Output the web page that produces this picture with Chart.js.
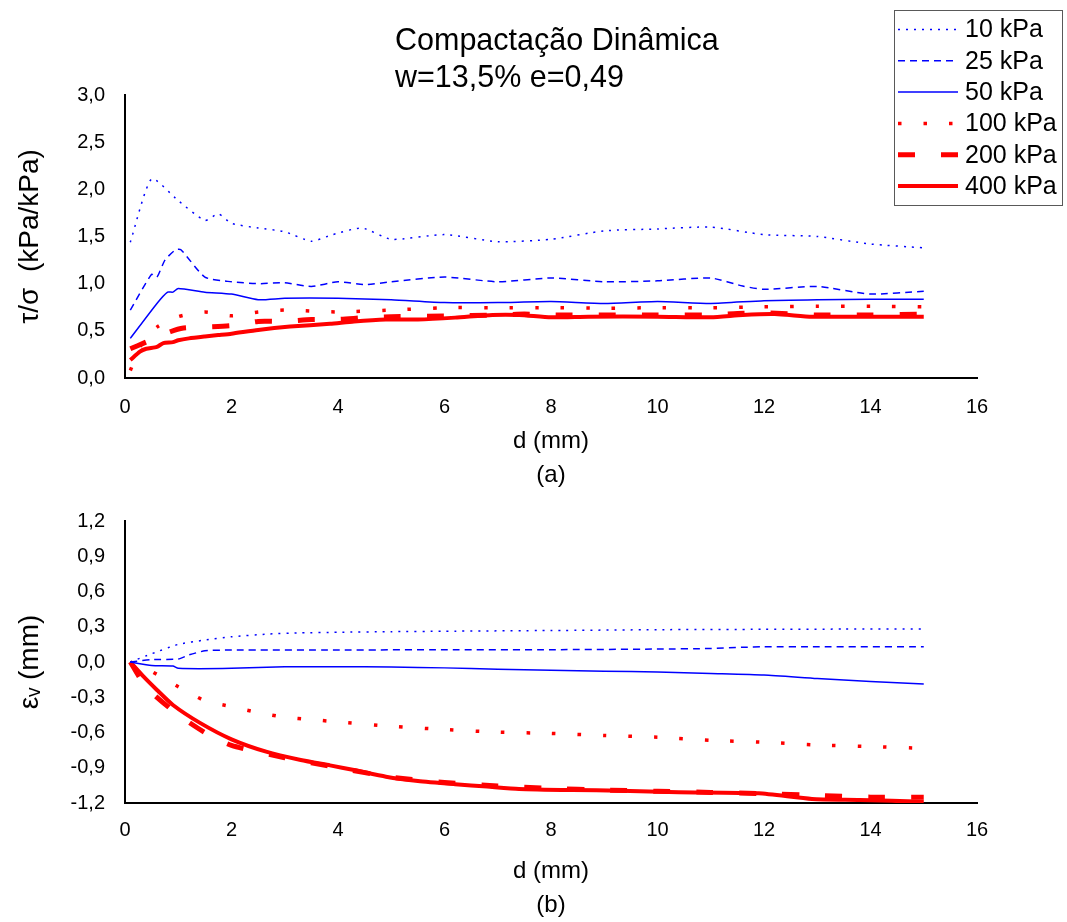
<!doctype html>
<html lang="pt">
<head>
  <meta charset="UTF-8">
  <title>Compactação Dinâmica</title>
  <script src="https://cdn.jsdelivr.net/npm/chart.js"></script>
  <style>
    body {
      margin: 0;
      width: 1067px;
      height: 922px;
      position: relative;
      overflow: hidden;
      background: #fff;
      font-family: "Liberation Sans", Arial, sans-serif;
    }
    canvas { position: absolute; left: 0; }
    #chart_a { top: 0; }
    #chart_b { top: 500px; }
    #title {
      position: absolute;
      left: 395px;
      top: 21px;
      font-size: 30.5px;
      line-height: 37px;
      color: #000;
      white-space: nowrap;
    }
  </style>
</head>
<body>
  <canvas id="chart_a" width="1067" height="500"></canvas>
  <canvas id="chart_b" width="1067" height="422"></canvas>
  <div id="title">Compactação Dinâmica<br>w=13,5% e=0,49</div>
  <script>
    const FONT = '"Liberation Sans", Arial, sans-serif'

    const x_ticks = [0, 2, 4, 6, 8, 10, 12, 14, 16]
    const tau_ticks = [0, 0.5, 1, 1.5, 2, 2.5, 3]
    const eps_ticks = [-1.2, -0.9, -0.6, -0.3, 0, 0.3, 0.6, 0.9, 1.2]
    const series_names = ['10 kPa', '25 kPa', '50 kPa', '100 kPa', '200 kPa', '400 kPa']

    // (a) tau/sigma vs d
    const d_a10 = [0.1, 0.5, 1.0, 1.5, 1.75, 2.0, 2.5, 3.0, 3.5, 3.9, 4.45, 5.0, 6.0, 7.0, 8.0, 9.0, 10.0, 11.0, 12.0, 13.0, 14.0, 15.0]
    const tau_10 = [1.44, 2.11, 1.88, 1.67, 1.74, 1.64, 1.59, 1.55, 1.45, 1.52, 1.59, 1.47, 1.52, 1.445, 1.47, 1.56, 1.58, 1.60, 1.52, 1.50, 1.42, 1.38]
    const d_a25 = [0.1, 0.5, 0.6, 0.75, 0.95, 1.05, 1.5, 2.0, 2.5, 3.0, 3.5, 4.0, 4.5, 5.0, 6.0, 7.0, 8.0, 9.0, 10.0, 11.0, 11.6, 12.0, 13.0, 14.0, 15.0]
    const tau_25 = [0.72, 1.1, 1.07, 1.25, 1.36, 1.36, 1.07, 1.02, 1.0, 1.01, 0.97, 1.02, 0.99, 1.02, 1.07, 1.02, 1.06, 1.02, 1.03, 1.06, 0.975, 0.94, 0.97, 0.89, 0.92]
    const d_a50 = [0.1, 0.6, 0.8, 0.9, 1.0, 1.5, 2.0, 2.5, 3.0, 4.0, 5.0, 6.0, 7.0, 8.0, 9.0, 10.0, 11.0, 12.0, 13.0, 14.0, 15.0]
    const tau_50 = [0.42, 0.79, 0.91, 0.91, 0.95, 0.91, 0.89, 0.83, 0.845, 0.845, 0.83, 0.80, 0.80, 0.81, 0.79, 0.81, 0.79, 0.82, 0.83, 0.835, 0.835]
    const d_a100 = [0.1, 0.3, 0.6, 1.0, 1.5, 2.0, 2.5, 3.0, 3.5, 4.0, 5.0, 6.0, 7.0, 8.0, 9.0, 10.0, 11.0, 12.0, 13.0, 14.0, 15.0]
    const tau_100 = [0.08, 0.35, 0.54, 0.65, 0.70, 0.66, 0.70, 0.72, 0.71, 0.70, 0.72, 0.745, 0.745, 0.745, 0.74, 0.745, 0.745, 0.755, 0.76, 0.76, 0.755]
    const d_a200 = [0.1, 0.35, 0.85, 1.1, 1.5, 2.0, 2.5, 3.0, 3.5, 4.0, 4.5, 5.0, 6.0, 7.0, 7.5, 8.0, 9.0, 10.0, 11.0, 11.5, 12.0, 13.0, 14.0, 15.0]
    const tau_200 = [0.31, 0.37, 0.49, 0.53, 0.54, 0.555, 0.60, 0.60, 0.62, 0.62, 0.64, 0.65, 0.657, 0.668, 0.678, 0.668, 0.668, 0.668, 0.668, 0.685, 0.69, 0.668, 0.668, 0.678]
    const d_a400 = [0.1, 0.28, 0.4, 0.6, 0.72, 0.9, 1.0, 1.2, 1.5, 1.75, 2.0, 2.5, 3.1, 3.85, 4.3, 4.9, 5.5, 6.2, 6.9, 7.4, 8.0, 8.7, 10.0, 11.0, 11.6, 12.2, 12.9, 13.8, 15.0]
    const tau_400 = [0.19, 0.28, 0.31, 0.33, 0.37, 0.38, 0.40, 0.42, 0.44, 0.455, 0.47, 0.51, 0.545, 0.575, 0.60, 0.62, 0.62, 0.64, 0.668, 0.668, 0.643, 0.65, 0.65, 0.643, 0.668, 0.678, 0.65, 0.65, 0.65]

    // (b) eps_v vs d
    const d_b10 = [0.1, 0.5, 1.0, 1.5, 2.0, 2.7, 3.3, 4.0, 5.0, 6.0, 8.0, 10.0, 12.0, 13.5, 15.0]
    const eps_10 = [0, 0.07, 0.15, 0.187, 0.215, 0.238, 0.248, 0.253, 0.258, 0.262, 0.268, 0.275, 0.278, 0.28, 0.28]
    const d_b25 = [0.1, 0.5, 1.0, 1.2, 1.5, 2.0, 4.0, 6.0, 8.0, 10.0, 11.0, 11.6, 12.0, 13.0, 15.0]
    const eps_25 = [0, 0.02, 0.025, 0.06, 0.095, 0.102, 0.102, 0.105, 0.105, 0.11, 0.115, 0.125, 0.13, 0.13, 0.13]
    const d_b50 = [0.1, 0.5, 0.9, 1.0, 2.0, 3.0, 4.0, 5.0, 6.0, 7.0, 8.0, 9.0, 10.0, 11.0, 12.0, 13.0, 14.0, 15.0]
    const eps_50 = [0, -0.03, -0.035, -0.054, -0.054, -0.04, -0.04, -0.043, -0.05, -0.062, -0.07, -0.078, -0.085, -0.097, -0.11, -0.14, -0.165, -0.187]
    const d_b100 = [0.1, 0.5, 1.0, 1.5, 2.0, 2.5, 3.0, 3.5, 4.0, 5.0, 6.0, 7.0, 8.0, 9.0, 10.0, 11.0, 12.0, 13.0, 14.0, 15.0]
    const eps_100 = [0, -0.08, -0.21, -0.33, -0.38, -0.43, -0.47, -0.49, -0.51, -0.547, -0.575, -0.597, -0.608, -0.625, -0.64, -0.666, -0.683, -0.706, -0.72, -0.735]
    const d_b200 = [0.1, 0.3, 0.5, 1.0, 1.5, 2.0, 3.0, 4.0, 5.0, 6.0, 7.0, 8.0, 9.0, 10.0, 11.0, 12.0, 13.0, 14.0, 15.0]
    const eps_200 = [0, -0.15, -0.26, -0.45, -0.6, -0.71, -0.815, -0.9, -0.98, -1.025, -1.055, -1.075, -1.09, -1.1, -1.11, -1.12, -1.135, -1.15, -1.15]
    const d_b400 = [0.1, 0.35, 0.6, 0.9, 1.4, 2.0, 2.65, 3.3, 3.85, 4.3, 4.9, 5.5, 6.2, 6.8, 7.4, 8.4, 9.3, 10.4, 11.9, 12.9, 13.8, 15.0]
    const eps_400 = [0, -0.125, -0.238, -0.366, -0.516, -0.658, -0.763, -0.834, -0.88, -0.919, -0.976, -1.013, -1.04, -1.06, -1.08, -1.09, -1.095, -1.108, -1.118, -1.166, -1.174, -1.19]

    const line_styles = [
      {color: '#0000ff', width: 1.5, dash: [2, 6]},
      {color: '#0000ff', width: 1.5, dash: [7, 5]},
      {color: '#0000ff', width: 1.5, dash: []},
      {color: '#ff0000', width: 3.5, dash: [3.5, 22]},
      {color: '#ff0000', width: 5, dash: [17, 26]},
      {color: '#ff0000', width: 4, dash: []}
    ]

    const to_points = (xs, ys) => xs.map((x, i) => ({x, y: ys[i]}))

    const make_datasets = pairs => pairs.map(([xs, ys], i) => ({
      label: series_names[i],
      data: to_points(xs, ys),
      borderColor: line_styles[i].color,
      borderWidth: line_styles[i].width,
      borderDash: line_styles[i].dash,
      borderCapStyle: 'butt',
      pointRadius: 0,
      tension: 0.2,
      fill: false
    }))

    const fmt = v => v.toFixed(1).replace('.', ',')

    const make_scales = ({y_ticks, y_title, x_title, x_height, x_pad, title_pad}) => ({
      x: {
        type: 'linear',
        min: 0,
        max: 16,
        afterBuildTicks: s => { s.ticks = x_ticks.map(value => ({value})) },
        afterFit: s => { s.height = x_height },
        grid: {display: false, drawTicks: false},
        border: {display: true, color: '#000', width: 2},
        ticks: {color: '#000', font: {family: FONT, size: 20}, padding: x_pad, maxRotation: 0, autoSkip: false},
        title: {
          display: true,
          text: x_title,
          color: '#000',
          font: {family: FONT, size: 24, lineHeight: 1.4},
          padding: {top: 0, bottom: title_pad}
        }
      },
      y: {
        type: 'linear',
        min: y_ticks[0],
        max: y_ticks[y_ticks.length - 1],
        afterBuildTicks: s => { s.ticks = y_ticks.map(value => ({value})) },
        afterFit: s => {
          s.width = 125
          s.paddingTop = 0
          s.paddingBottom = 0
        },
        grid: {display: false, drawTicks: false},
        border: {display: true, color: '#000', width: 2},
        ticks: {color: '#000', font: {family: FONT, size: 20}, padding: 20, callback: v => fmt(v)},
        title: {
          display: true,
          text: y_title,
          color: '#000',
          font: {family: FONT, size: 28, lineHeight: 1.2},
          padding: {top: 13, bottom: 0}
        }
      }
    })

    const box_legend = {
      id: 'box_legend',
      afterDraw(chart) {
        const {ctx} = chart
        ctx.save()
        ctx.fillStyle = '#fff'
        ctx.fillRect(894, 10, 169, 196)
        ctx.strokeStyle = '#595959'
        ctx.lineWidth = 1
        ctx.strokeRect(894.5, 10.5, 168, 195)
        chart.data.datasets.forEach((ds, i) => {
          const y = 29.5 + i * 31.3
          ctx.strokeStyle = ds.borderColor
          ctx.lineWidth = ds.borderWidth
          ctx.lineCap = 'butt'
          ctx.setLineDash(ds.borderDash)
          ctx.beginPath()
          ctx.moveTo(898, y)
          ctx.lineTo(958, y)
          ctx.stroke()
          ctx.setLineDash([])
          ctx.fillStyle = '#000'
          ctx.font = `25px ${FONT}`
          ctx.textBaseline = 'middle'
          ctx.textAlign = 'left'
          ctx.fillText(ds.label, 965, y + 1)
        })
        ctx.restore()
      }
    }

    const chart_a = new Chart(document.getElementById('chart_a'), {
      type: 'line',
      data: {
        datasets: make_datasets([
          [d_a10, tau_10], [d_a25, tau_25], [d_a50, tau_50],
          [d_a100, tau_100], [d_a200, tau_200], [d_a400, tau_400]
        ])
      },
      options: {
        responsive: false,
        animation: false,
        devicePixelRatio: 1,
        layout: {padding: {top: 95, right: 90, bottom: 0, left: 0}},
        plugins: {legend: {display: false}, tooltip: {enabled: false}},
        scales: make_scales({
          y_ticks: tau_ticks,
          y_title: 'τ/σ  (kPa/kPa)',
          x_title: ['d (mm)', '(a)'],
          x_height: 122,
          x_pad: 17,
          title_pad: 8
        })
      },
      plugins: [box_legend]
    })

    const chart_b = new Chart(document.getElementById('chart_b'), {
      type: 'line',
      data: {
        datasets: make_datasets([
          [d_b10, eps_10], [d_b25, eps_25], [d_b50, eps_50],
          [d_b100, eps_100], [d_b200, eps_200], [d_b400, eps_400]
        ])
      },
      options: {
        responsive: false,
        animation: false,
        devicePixelRatio: 1,
        layout: {padding: {top: 21, right: 90, bottom: 0, left: 0}},
        plugins: {legend: {display: false}, tooltip: {enabled: false}},
        scales: make_scales({
          y_ticks: eps_ticks,
          y_title: 'εᵥ (mm)',
          x_title: ['d (mm)', '(b)'],
          x_height: 119,
          x_pad: 15,
          title_pad: 0
        })
      }
    })
  </script>
</body>
</html>
